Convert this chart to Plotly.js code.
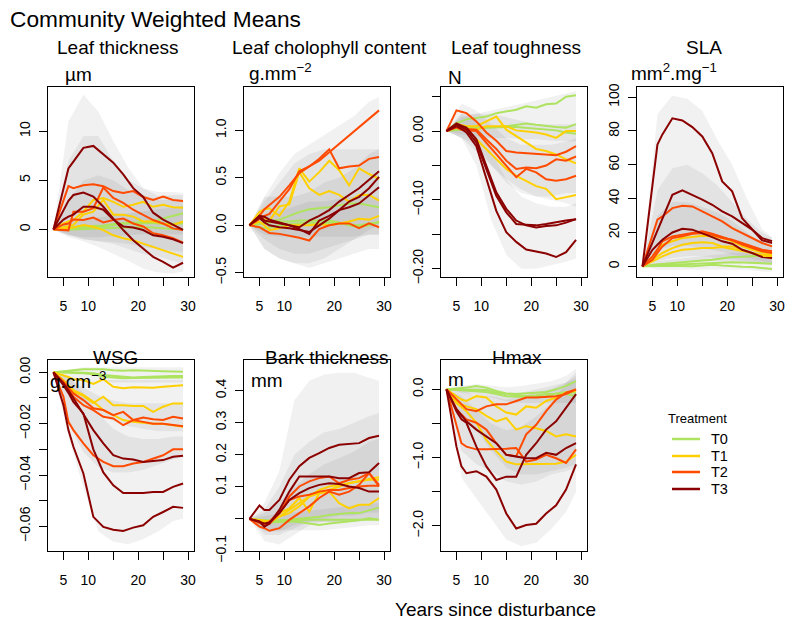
<!DOCTYPE html>
<html><head><meta charset="utf-8">
<script src="https://cdn.plot.ly/plotly-3.0.1.min.js"></script>
<style>html,body{margin:0;padding:0;background:#fff}</style>
</head><body><div id="chart" style="width:787px;height:621px"></div>
<script>
// ---------------- DATA ----------------
const years = [3,5,6,7,9,11,13,15,17,19,21,23,25,27,29];
const bandYears = [3,6,9,12,15,18,21,24,27,29];
const treatments = ['T0','T1','T2','T3'];
const treatmentColors = ['#ADE35F','#FFD000','#FF4A00','#8B0000'];
const xTickVals = [5,10,20,30];
const xTickText = ['5','10','20','30'];
const xMinorVals = [15,25];

// Leaf thickness (µm)
const thickT0 = [
 [0,0.15,0.2,0.25,0.3,0.35,0.4,0.55,0.65,0.7,0.75,0.8,1.1,1.35,1.65],
 [0,0.1,0.1,0.1,0.15,0.2,0.3,0.45,0.6,0.6,0.65,0.65,0.55,0.6,0.6],
 [0,-0.05,-0.05,0,0.05,0.1,0.1,0.2,0.2,0.2,0.25,0.2,0.1,0.05,0.05]];
const thickT1 = [
 [0,0.6,0.8,0.95,1.8,3.0,3.2,2.8,2.3,2.5,2.8,2.3,2.5,2.25,2.2],
 [0,0.2,0.3,0.45,1.5,1.8,3.0,1.5,1.5,1.3,0.8,0.8,0.6,0.45,0.8],
 [0,0.1,0.1,0.2,0.45,0.27,-0.07,-0.6,-0.9,-1.1,-1.45,-1.8,-2.1,-2.45,-2.8]];
const thickT2 = [
 [0,3.0,4.4,4.2,4.5,4.6,4.4,3.9,3.7,3.9,3.3,3.0,3.35,3.0,2.9],
 [0,-0.05,-0.1,1.8,1.8,2.15,4.27,3.2,2.7,2.0,1.5,0.95,0.6,0.1,-0.07],
 [0,0.5,0.6,1.0,0.95,1.2,0.7,0.95,1.1,0.6,0.3,-0.4,-0.6,-0.9,-1.35]];
const thickT3 = [
 [0,4.0,6.2,6.9,8.3,8.5,7.6,6.8,5.6,4.2,3.3,1.7,1.0,0.45,-0.05],
 [0,2.0,2.9,3.5,3.75,3.35,2.3,1.1,-0.07,-1.1,-1.95,-2.8,-3.3,-3.9,-3.4],
 [0,1.0,1.3,1.5,2.3,2.3,2.0,1.0,0.3,0.2,-0.07,-0.6,-0.75,-1.0,-1.4]];
const thickBandHi = [
 [0,0.8,1,1.2,1.4,1.6,1.8,2,2.2,2.4],
 [0,3,5,5.5,5,4,3.5,3,3,3],
 [0,7,9.5,9.5,7,5,4.2,3.8,3.8,3.7],
 [0,11,13.7,12,9,6.3,4.2,3.4,3.5,3.5]];
const thickBandLo = [
 [0,-0.6,-0.8,-0.8,-0.7,-0.6,-0.5,-0.5,-0.5,-0.5],
 [0,-0.6,-1,-1.2,-1.5,-2,-2.5,-2.8,-3.2,-3.5],
 [0,-0.5,-1,-1.2,-1.3,-1.5,-1.8,-2,-2.2,-2.3],
 [0,-0.8,-1.2,-1.8,-2.5,-3.2,-4,-4.4,-4.5,-4.3]];

// Leaf chlorophyll content (g.mm-2)
const chlT0 = [
 [0,0.01,0.03,0.04,0.06,0.1,0.14,0.17,0.18,0.19,0.21,0.23,0.23,0.21,0.19],
 [0,0.02,0.03,0.03,0.04,0.04,0.05,0.05,0.05,0.05,0.03,0.0,-0.02,0.0,0.04],
 [0,-0.02,-0.03,-0.02,0.0,0.01,0.02,0.03,0.02,0.03,0.02,0.01,0.0,0.02,0.03]];
const chlT1 = [
 [0,0.14,0.17,0.18,0.1,0.25,0.6,0.46,0.56,0.68,0.58,0.42,0.6,0.54,0.49],
 [0,0.1,0.08,0.05,0.2,0.22,0.56,0.39,0.32,0.36,0.32,0.25,0.32,0.32,0.26],
 [0,0.04,0.0,-0.05,-0.03,0.0,0.0,0.0,0.01,0.0,0.02,0.04,0.07,0.06,0.1]];
const chlT2 = [
 [0,0.1,0.17,0.21,0.3,0.42,0.55,0.62,0.68,0.77,0.86,0.94,1.03,1.12,1.21],
 [0,0.07,0.1,0.12,0.25,0.38,0.57,0.62,0.7,0.8,0.6,0.62,0.63,0.7,0.72],
 [0,-0.02,-0.05,-0.08,-0.09,-0.11,-0.13,-0.16,-0.04,0.0,0.02,0.02,-0.03,0.02,-0.02]];
const chlT3 = [
 [0,0.1,0.09,0.06,0.03,0.0,-0.02,0.05,0.1,0.16,0.25,0.32,0.39,0.48,0.57],
 [0,0.08,0.03,0.0,-0.02,-0.03,-0.05,-0.07,0.0,0.07,0.16,0.25,0.3,0.39,0.51],
 [0,0.1,0.05,0.04,0.02,0.0,-0.04,-0.09,0.05,0.1,0.16,0.19,0.23,0.32,0.4]];
const chlBandHi = [
 [0,0.1,0.15,0.2,0.25,0.25,0.28,0.3,0.3,0.3],
 [0,0.25,0.45,0.65,0.75,0.8,0.8,0.8,0.8,0.8],
 [0,0.3,0.55,0.75,0.85,0.95,1.05,1.15,1.3,1.35],
 [0,0.3,0.3,0.3,0.35,0.45,0.5,0.6,0.75,0.8]];
const chlBandLo = [
 [0,-0.1,-0.12,-0.12,-0.12,-0.12,-0.12,-0.12,-0.1,-0.1],
 [0,-0.15,-0.25,-0.3,-0.3,-0.25,-0.2,-0.15,-0.1,-0.1],
 [0,-0.25,-0.35,-0.4,-0.45,-0.4,-0.35,-0.3,-0.25,-0.25],
 [0,-0.25,-0.35,-0.4,-0.4,-0.35,-0.25,-0.15,-0.05,0]];

// Leaf toughness (N)
const toughT0 = [
 [0,0.012,0.014,0.017,0.019,0.021,0.026,0.029,0.031,0.036,0.034,0.039,0.04,0.05,0.052],
 [0,0.004,0.004,0.005,0.005,0.005,0.006,0.007,0.009,0.011,0.009,0.007,0.006,0.005,0.01],
 [0,0.002,0.002,0.003,0.004,0.005,0.005,0.006,0.006,0.005,0.004,0.003,0.001,-0.002,-0.004]];
const toughT1 = [
 [0,0.01,0.009,0.007,0.007,0.014,0.021,0.002,-0.007,-0.017,-0.026,-0.029,-0.034,-0.041,-0.047],
 [0,0.007,0.005,0.003,0.002,0.007,0.007,0.007,0.001,0,-0.002,-0.005,-0.01,0,0],
 [0,0.007,0.005,0.003,-0.012,-0.026,-0.041,-0.055,-0.065,-0.072,-0.08,-0.084,-0.099,-0.096,-0.093]];
const toughT2 = [
 [0,0.03,0.028,0.026,0.014,-0.002,-0.014,-0.029,-0.031,-0.032,-0.034,-0.034,-0.035,-0.03,-0.022],
 [0,0.007,0.005,0.003,0.002,-0.012,-0.026,-0.043,-0.055,-0.053,-0.054,-0.05,-0.041,-0.043,-0.037],
 [0,0.005,0.002,0.001,0,-0.017,-0.034,-0.05,-0.067,-0.055,-0.06,-0.07,-0.072,-0.07,-0.065]];
const toughT3 = [
 [0,0.011,0.008,0.005,-0.012,-0.05,-0.089,-0.113,-0.13,-0.137,-0.14,-0.138,-0.137,-0.133,-0.128],
 [0,0.01,0.006,0.002,-0.017,-0.055,-0.094,-0.118,-0.135,-0.136,-0.137,-0.135,-0.132,-0.13,-0.128],
 [0,0.007,0.003,-0.002,-0.022,-0.07,-0.116,-0.147,-0.161,-0.172,-0.175,-0.178,-0.183,-0.176,-0.158]];
const toughBandHi = [
 [0,0.02,0.025,0.03,0.035,0.04,0.045,0.05,0.055,0.058],
 [0,0.025,0.025,0.025,0.02,0.015,0.01,0.01,0.01,0.01],
 [0,0.04,0.03,0.01,-0.01,-0.02,-0.02,-0.02,-0.015,-0.01],
 [0,0.025,0.015,-0.03,-0.07,-0.095,-0.105,-0.11,-0.11,-0.105]];
const toughBandLo = [
 [0,-0.005,-0.008,-0.01,-0.01,-0.012,-0.012,-0.014,-0.015,-0.015],
 [0,-0.01,-0.03,-0.05,-0.07,-0.085,-0.095,-0.1,-0.105,-0.11],
 [0,-0.01,-0.02,-0.05,-0.075,-0.09,-0.095,-0.095,-0.09,-0.09],
 [0,-0.01,-0.05,-0.13,-0.18,-0.2,-0.2,-0.195,-0.19,-0.185]];

// SLA (mm2.mg-1)
const slaT0 = [
 [0,1,1.2,1.4,2,2.5,3,3.4,3.9,4.7,5.5,5.7,5.9,6.4,6.9],
 [0,0.5,0.6,0.7,1,1.3,1.6,1.8,2,2.2,2.4,2.2,2,1.8,1.6],
 [0,0.2,0.2,0.3,0.4,0.2,0,0.5,1,0.5,0,-0.2,-0.4,-1,-1.6]];
const slaT1 = [
 [0,5.9,9.5,12.8,14.8,16.7,17.3,18.1,17.7,16.7,14.8,11.8,9.8,8.3,6.9],
 [0,3.9,6,7.9,10.8,12.8,13.8,14.2,13.8,11.8,11.8,9.8,7.9,6.3,4.9],
 [0,3,4.5,5.9,8.3,9.8,10.2,10.8,10.8,11.4,10.2,8.9,7.9,6.9,5.9]];
const slaT2 = [
 [0,18,27.6,29.5,34.4,35.8,35.4,32.5,29.5,26.6,22.6,19.7,16.7,13.8,11.8],
 [0,5.9,10,14.8,17.7,18.7,19.7,20.7,19.3,17.3,15.4,12.8,10.8,8.9,7.9],
 [0,3.9,8,11.8,16.7,17.7,19.3,19.7,18.7,16.7,15.7,13.8,11.8,9.8,8.9]];
const slaT3 = [
 [0,48,72,78,87.5,86.2,82.3,76.8,66.9,50.2,44.3,28.5,21.7,15.4,13.8],
 [0,13.8,21,28.5,42.3,44.9,42.3,39.4,36.4,32.5,29.5,25.6,21.7,16.7,14.8],
 [0,9.8,12.8,15.7,20,22.2,21.7,19.7,17.3,14.8,13.4,9.8,7.9,5.5,4.9]];
const slaBandHi = [
 [0,3,4,5,6,7,8,8,9,9],
 [0,30,38,38,35,32,27,20,14,12],
 [0,45,58,60,55,48,38,28,20,17],
 [0,90,101,99,92,75,60,40,22,17]];
const slaBandLo = [
 [0,-2,-2,-2,-2,-2,-2,-2,-3,-3],
 [0,1,2,3,3,3,2,2,1,1],
 [0,3,5,6,6,5,4,3,2,2],
 [0,10,12,12,11,9,7,5,3,2]];

// WSG (g.cm-3)
const wsgT0 = [
 [0,0.0004,0.0006,0.0008,0.0012,0.0012,0.0012,0.0008,0.0006,0.0008,0.0006,0.0006,0.0004,0.0003,0.0002],
 [0,0.0002,0.0002,0,-0.0002,-0.0004,-0.001,-0.0014,-0.0018,-0.002,-0.0018,-0.0016,-0.0015,-0.0014,-0.0014],
 [0,0,-0.0002,-0.0003,-0.0004,-0.0008,-0.0017,-0.002,-0.0023,-0.0022,-0.0021,-0.002,-0.002,-0.002,-0.002]];
const wsgT1 = [
 [0,-0.001,-0.0018,-0.0027,-0.003,-0.0045,-0.0027,-0.0056,-0.0062,-0.0058,-0.006,-0.006,-0.0056,-0.0054,-0.005],
 [0,-0.0036,-0.0055,-0.0075,-0.0092,-0.012,-0.0095,-0.0128,-0.0128,-0.0131,-0.0131,-0.0154,-0.0134,-0.0121,-0.0121],
 [0,-0.003,-0.005,-0.0069,-0.0088,-0.0115,-0.0147,-0.0167,-0.0186,-0.0193,-0.0196,-0.02,-0.02,-0.0206,-0.0212]];
const wsgT2 = [
 [0,-0.0036,-0.006,-0.0082,-0.0108,-0.014,-0.0147,-0.0167,-0.0154,-0.0186,-0.0176,-0.0183,-0.0186,-0.0173,-0.018],
 [0,-0.0043,-0.007,-0.0095,-0.0128,-0.0147,-0.0173,-0.018,-0.0206,-0.0186,-0.0193,-0.02,-0.02,-0.0206,-0.021],
 [0,-0.0095,-0.0193,-0.0225,-0.0277,-0.0323,-0.0349,-0.0366,-0.0366,-0.0355,-0.0349,-0.0336,-0.0323,-0.03,-0.03]];
const wsgT3 = [
 [0,-0.0043,-0.007,-0.0101,-0.0167,-0.0225,-0.0277,-0.0323,-0.0336,-0.034,-0.0349,-0.0345,-0.0342,-0.0329,-0.0325],
 [0,-0.005,-0.008,-0.0115,-0.016,-0.03,-0.039,-0.044,-0.047,-0.047,-0.047,-0.0466,-0.0466,-0.0446,-0.0433],
 [0,-0.0128,-0.0225,-0.029,-0.0394,-0.0563,-0.0602,-0.0613,-0.0618,-0.0605,-0.0596,-0.0563,-0.0544,-0.0524,-0.0528]];
const wsgBandHi = [
 [0,0.001,0.002,0.002,0.002,0.002,0.002,0.002,0.002,0.002],
 [0,-0.001,-0.002,-0.003,-0.003,-0.003,-0.003,-0.003,-0.003,-0.003],
 [0,-0.002,-0.006,-0.009,-0.011,-0.012,-0.012,-0.012,-0.012,-0.012],
 [0,-0.002,-0.008,-0.016,-0.022,-0.025,-0.026,-0.026,-0.025,-0.025]];
const wsgBandLo = [
 [0,-0.001,-0.002,-0.003,-0.004,-0.004,-0.004,-0.004,-0.004,-0.004],
 [0,-0.008,-0.012,-0.016,-0.019,-0.021,-0.022,-0.023,-0.023,-0.023],
 [0,-0.02,-0.031,-0.037,-0.039,-0.039,-0.038,-0.036,-0.034,-0.033],
 [0,-0.025,-0.045,-0.062,-0.066,-0.067,-0.065,-0.062,-0.058,-0.057]];

// Bark thickness (mm)
const barkT0 = [
 [0,-0.004,-0.006,-0.008,-0.006,-0.003,0,0.002,0.007,0.0125,0.015,0.018,0.018,0.026,0.035],
 [0,-0.005,-0.008,-0.011,-0.01,-0.008,-0.01,-0.014,-0.019,-0.014,-0.011,-0.008,-0.004,0.002,-0.003],
 [0,-0.002,-0.004,-0.005,-0.004,-0.003,-0.003,-0.003,-0.003,-0.003,-0.003,-0.003,-0.003,-0.003,-0.003]];
const barkT1 = [
 [0,-0.003,-0.006,-0.008,0.007,0.018,0.039,0.07,0.09,0.101,0.106,0.111,0.117,0.124,0.13],
 [0,-0.003,-0.006,-0.008,0.018,0.033,0.065,0.023,0.08,0.085,0.049,0.033,0.044,0.044,0.065],
 [0,-0.008,-0.01,-0.011,0.007,0.028,0.049,0.07,0.08,0.09,0.101,0.111,0.117,0.122,0.122]];
const barkT2 = [
 [0,-0.008,-0.019,-0.016,0.018,0.07,0.101,0.117,0.127,0.132,0.111,0.122,0.127,0.143,0.101],
 [0,-0.024,-0.029,-0.037,-0.029,-0.003,0.018,0.039,0.065,0.085,0.075,0.085,0.106,0.143,0.106],
 [0,-0.014,-0.019,-0.008,0.018,0.059,0.07,0.075,0.085,0.09,0.09,0.096,0.101,0.103,0.103]];
const barkT3 = [
 [0,0.042,0.028,0.028,0.059,0.122,0.164,0.19,0.205,0.221,0.231,0.234,0.236,0.252,0.259],
 [0,-0.008,-0.024,-0.014,0.028,0.085,0.132,0.132,0.132,0.132,0.127,0.127,0.143,0.145,0.174],
 [0,-0.008,-0.014,-0.011,0.018,0.059,0.08,0.096,0.106,0.111,0.109,0.101,0.096,0.085,0.085]];
const barkBandHi = [
 [0,0.01,0.015,0.02,0.025,0.03,0.035,0.04,0.045,0.05],
 [0,0.02,0.05,0.1,0.14,0.17,0.19,0.21,0.24,0.25],
 [0,0.03,0.1,0.2,0.24,0.27,0.28,0.3,0.32,0.33],
 [0,0.05,0.15,0.37,0.43,0.45,0.455,0.455,0.44,0.43]];
const barkBandLo = [
 [0,-0.03,-0.035,-0.035,-0.035,-0.035,-0.03,-0.025,-0.02,-0.02],
 [0,-0.04,-0.04,-0.02,-0.01,-0.01,-0.01,0,0,0],
 [0,-0.05,-0.05,-0.03,-0.01,0,0.01,0.01,0.02,0.02],
 [0,-0.07,-0.08,-0.05,-0.02,-0.01,-0.01,-0.01,0,0]];

// Hmax (m)
const hmaxT0 = [
 [0,0.01,0.02,0.025,0.05,0.025,-0.025,-0.06,-0.07,-0.06,-0.05,-0.04,0,0.05,0.12],
 [0,0,0,0,-0.01,-0.01,-0.05,-0.07,-0.09,-0.1,-0.09,-0.07,-0.07,-0.07,-0.1],
 [0,-0.01,-0.02,-0.025,-0.03,-0.04,-0.07,-0.1,-0.11,-0.11,-0.1,-0.1,-0.06,-0.04,-0.05]];
const hmaxT1 = [
 [0,-0.1,-0.15,-0.17,-0.1,-0.12,-0.25,-0.34,-0.37,-0.25,-0.27,-0.17,-0.12,-0.05,-0.02],
 [0,-0.17,-0.22,-0.25,-0.29,-0.39,-0.47,-0.42,-0.59,-0.54,-0.57,-0.61,-0.69,-0.66,-0.69],
 [0,-0.2,-0.26,-0.32,-0.49,-0.74,-0.91,-1.06,-1.1,-1.1,-1.1,-1.1,-1.09,-1.06,-0.96]];
const hmaxT2 = [
 [0,-0.15,-0.22,-0.29,-0.32,-0.25,-0.22,-0.22,-0.17,-0.12,-0.12,-0.11,-0.1,-0.07,0],
 [0,-0.29,-0.37,-0.44,-0.49,-0.59,-0.79,-0.96,-0.98,-0.66,-0.52,-0.32,-0.15,-0.05,0],
 [0,-0.54,-0.79,-0.84,-0.88,-0.88,-0.88,-0.87,-0.86,-1.06,-1.03,-0.96,-1.01,-1.08,-0.88]];
const hmaxT3 = [
 [0,-0.29,-0.38,-0.47,-0.59,-0.69,-0.79,-0.96,-0.98,-1.01,-1.01,-0.93,-0.96,-0.86,-0.79],
 [0,-0.32,-0.44,-0.49,-0.84,-1.13,-1.33,-1.28,-1.28,-0.96,-0.79,-0.59,-0.47,-0.27,-0.07],
 [0,-0.84,-1.13,-1.23,-1.2,-1.28,-1.47,-1.82,-2.04,-1.99,-1.97,-1.82,-1.7,-1.47,-1.1]];
const hmaxBandHi = [
 [0,0.05,0.08,0.05,0.03,0.05,0.08,0.12,0.2,0.3],
 [0,0.05,0.05,0,-0.05,-0.05,0,0.05,0.1,0.15],
 [0,0,-0.1,-0.1,-0.15,-0.1,-0.05,0,0.1,0.2],
 [0,-0.1,-0.3,-0.5,-0.6,-0.55,-0.4,-0.2,0.1,0.25]];
const hmaxBandLo = [
 [0,-0.05,-0.08,-0.12,-0.18,-0.2,-0.2,-0.2,-0.2,-0.2],
 [0,-0.4,-0.6,-0.9,-1.15,-1.25,-1.25,-1.2,-1.15,-1.1],
 [0,-0.9,-1.1,-1.2,-1.35,-1.4,-1.35,-1.25,-1.2,-1.15],
 [0,-1.3,-1.6,-1.9,-2.2,-2.3,-2.25,-2.05,-1.8,-1.5]];

// ---------------- PANEL CONFIG ----------------
const W = 787, H = 621;
const FONT = 'Liberation Sans, Arial, Helvetica, sans-serif';
const colLeft = [48, 244, 441, 637];
const panelW = 146;
const rowTop = [87, 360], rowBottom = [277, 551];

const panels = [
 {title:'Leaf thickness', tx:117, unit:'µm', ux:63, uy:75,
  series:[thickT0,thickT1,thickT2,thickT3], hi:thickBandHi, lo:thickBandLo,
  yr:[-4.85,14.5], yv:[0,5,10], yt:['0','5','10'], ym:[]},
 {title:'Leaf cholophyll content', tx:329, unit:'g.mm<sup>−2</sup>', ux:247, uy:72,
  series:[chlT0,chlT1,chlT2,chlT3], hi:chlBandHi, lo:chlBandLo,
  yr:[-0.544,1.456], yv:[-0.5,0,0.5,1], yt:['−0.5','0.0','0.5','1.0'], ym:[]},
 {title:'Leaf toughness', tx:516, unit:'N', ux:446, uy:77,
  series:[toughT0,toughT1,toughT2,toughT3], hi:toughBandHi, lo:toughBandLo,
  yr:[-0.212,0.064], yv:[0,-0.1,-0.2], yt:['0.00','−0.10','−0.20'], ym:[0.05,-0.05,-0.15]},
 {title:'SLA', tx:704, unit:'mm<sup>2</sup>.mg<sup>−1</sup>', ux:629, uy:72,
  series:[slaT0,slaT1,slaT2,slaT3], hi:slaBandHi, lo:slaBandLo,
  yr:[-6.3,106], yv:[0,20,40,60,80,100], yt:['0','20','40','60','80','100'], ym:[]},
 {title:'WSG', tx:116, unit:'g.cm<sup>−3</sup>', ux:48, uy:380,
  series:[wsgT0,wsgT1,wsgT2,wsgT3], hi:wsgBandHi, lo:wsgBandLo,
  yr:[-0.0696,0.0048], yv:[0,-0.02,-0.04,-0.06], yt:['0.00','−0.02','−0.04','−0.06'], ym:[-0.01,-0.03,-0.05]},
 {title:'Bark thickness', tx:327, unit:'mm', ux:249, uy:380,
  series:[barkT0,barkT1,barkT2,barkT3], hi:barkBandHi, lo:barkBandLo,
  yr:[-0.1,0.495], yv:[-0.1,0.1,0.2,0.3,0.4], yt:['−0.1','0.1','0.2','0.3','0.4'], ym:[0]},
 {title:'Hmax', tx:517, unit:'m', ux:446, uy:379,
  series:[hmaxT0,hmaxT1,hmaxT2,hmaxT3], hi:hmaxBandHi, lo:hmaxBandLo,
  yr:[-2.37,0.43], yv:[0,-1,-2], yt:['0.0','−1.0','−2.0'], ym:[-0.5,-1.5]}
];

const traces = [];
const layout = {
  width: W, height: H,
  margin: {l:0, r:0, t:0, b:0},
  paper_bgcolor: '#fff', plot_bgcolor: '#fff',
  showlegend: false,
  font: {family: FONT, color: '#000'},
  annotations: [], shapes: []
};

panels.forEach((p, i) => {
  const s = i === 0 ? '' : String(i + 1);
  const row = i < 4 ? 0 : 1, col = i < 4 ? i : i - 4;
  const l = colLeft[col];
  for (let t = 0; t < 4; t++) {
    traces.push({
      type: 'scatter', mode: 'lines', xaxis: 'x' + s, yaxis: 'y' + s,
      x: bandYears.concat(bandYears.slice().reverse()),
      y: p.hi[t].concat(p.lo[t].slice().reverse()),
      fill: 'toself', fillcolor: 'rgba(0,0,0,0.055)',
      line: {width: 0}, hoverinfo: 'skip'
    });
  }
  for (let t = 0; t < 4; t++) {
    p.series[t].forEach(vals => {
      traces.push({
        type: 'scatter', mode: 'lines', xaxis: 'x' + s, yaxis: 'y' + s,
        x: years, y: vals, name: treatments[t],
        line: {color: treatmentColors[t], width: 2}
      });
    });
  }
  const common = {
    ticks: 'outside', ticklen: 8, tickwidth: 1, tickcolor: '#000',
    showline: true, linecolor: '#000', linewidth: 1, mirror: true,
    showgrid: false, zeroline: false, fixedrange: true,
    tickfont: {family: FONT, size: 14, color: '#000'}, tickmode: 'array'
  };
  const minorStyle = {ticks: 'outside', ticklen: 8, tickwidth: 1, tickcolor: '#000', showgrid: false, tickmode: 'array'};
  layout['xaxis' + s] = Object.assign({}, common, {
    domain: [l / W, (l + panelW) / W], range: [1.9, 31.2], anchor: 'y' + s,
    tickvals: xTickVals, ticktext: xTickText, ticklabelstandoff: 8,
    minor: Object.assign({}, minorStyle, {tickvals: xMinorVals})
  });
  const yax = Object.assign({}, common, {
    domain: [1 - rowBottom[row] / H, 1 - rowTop[row] / H], range: p.yr, anchor: 'x' + s,
    tickvals: p.yv, ticktext: p.yt, tickangle: -90, ticklabelstandoff: 3
  });
  if (p.ym.length) yax.minor = Object.assign({}, minorStyle, {tickvals: p.ym});
  layout['yaxis' + s] = yax;
  const ty = row === 0 ? 47 : 357;
  layout.annotations.push({xref:'paper', yref:'paper', x: p.tx / W, y: 1 - ty / H,
    xanchor:'center', yanchor:'middle', text: p.title, showarrow:false,
    font:{family: FONT, size: 19, color:'#000'}});
  layout.annotations.push({xref:'paper', yref:'paper', x: p.ux / W, y: 1 - p.uy / H,
    xanchor:'left', yanchor:'middle', text: p.unit, showarrow:false,
    font:{family: FONT, size: 19, color:'#000'}});
});

layout.annotations.push({xref:'paper', yref:'paper', x: 8 / W, y: 1 - 19 / H,
  xanchor:'left', yanchor:'middle', text:'Community Weighted Means', showarrow:false,
  font:{family: FONT, size: 22.7, color:'#000'}});
layout.annotations.push({xref:'paper', yref:'paper', x: 495 / W, y: 1 - 609 / H,
  xanchor:'center', yanchor:'middle', text:'Years since disturbance', showarrow:false,
  font:{family: FONT, size: 19, color:'#000'}});

const legY = [439, 456, 472, 489];
layout.annotations.push({xref:'paper', yref:'paper', x: 697 / W, y: 1 - 418 / H,
  xanchor:'center', yanchor:'middle', text:'Treatment', showarrow:false,
  font:{family: FONT, size: 13, color:'#000'}});
treatments.forEach((tname, t) => {
  layout.shapes.push({type:'line', xref:'paper', yref:'paper',
    x0: 672 / W, x1: 700 / W, y0: 1 - legY[t] / H, y1: 1 - legY[t] / H,
    line:{color: treatmentColors[t], width: 2.5}});
  layout.annotations.push({xref:'paper', yref:'paper', x: 709 / W, y: 1 - legY[t] / H,
    xanchor:'left', yanchor:'middle', text: tname, showarrow:false,
    font:{family: FONT, size: 14.5, color:'#000'}});
});

Plotly.newPlot('chart', traces, layout, {staticPlot: true, displayModeBar: false});
</script></body></html>
